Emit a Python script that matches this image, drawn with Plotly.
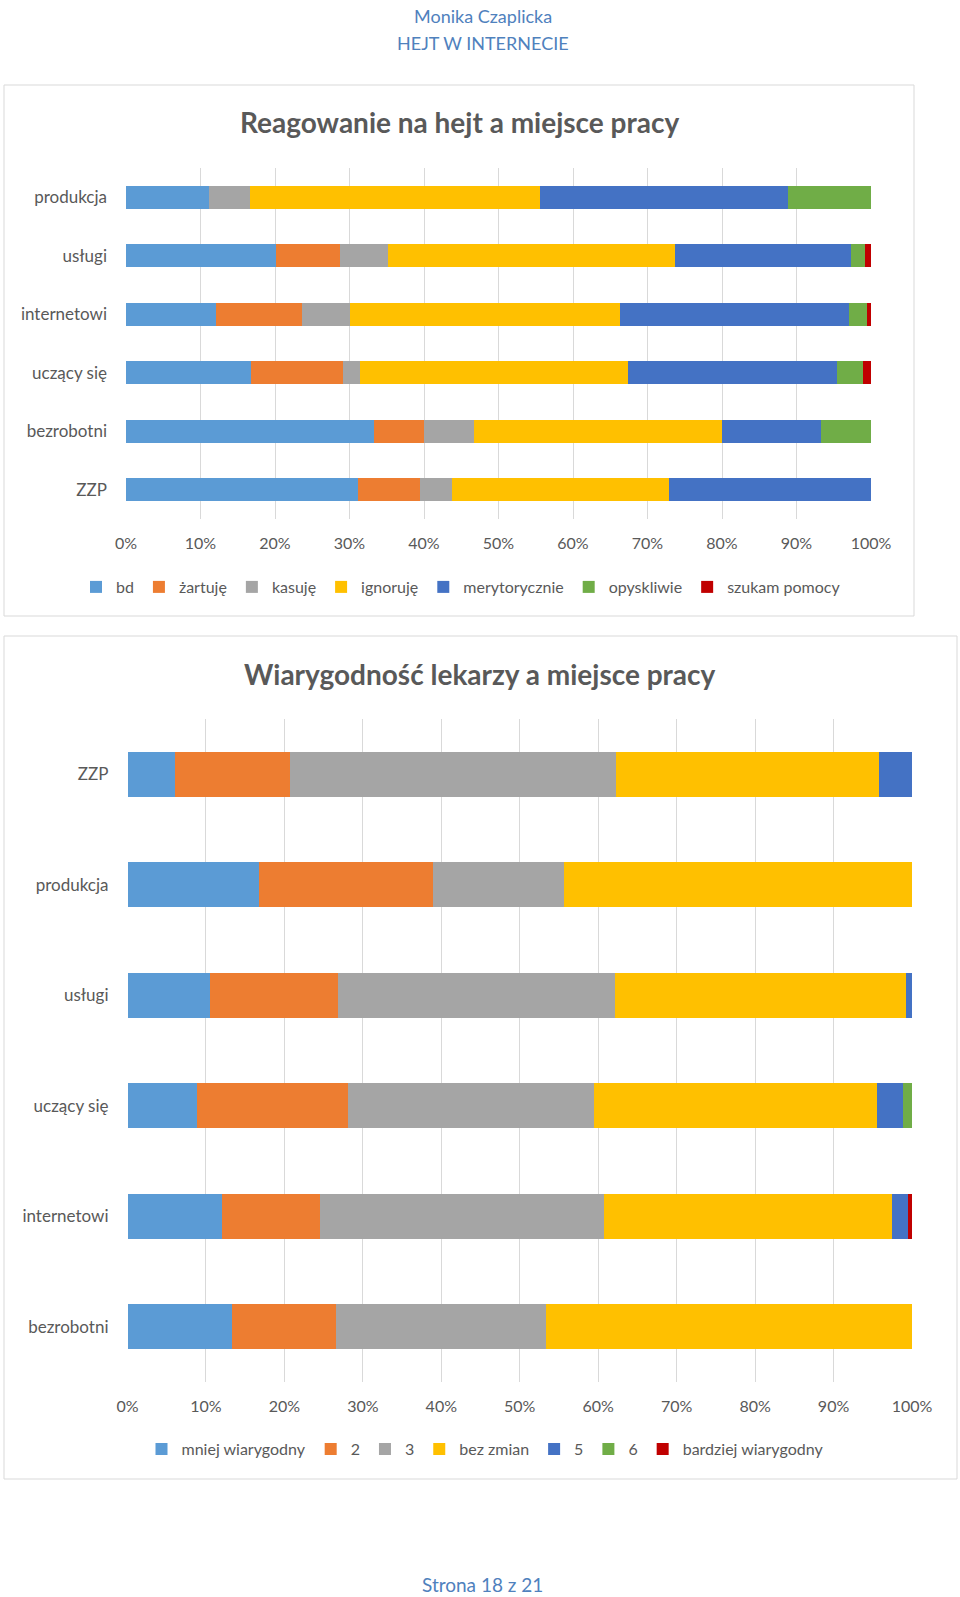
import plotly.graph_objects as go

# ---------------- data ----------------
cats1 = ["produkcja", "usługi", "internetowi", "uczący się", "bezrobotni", "ZZP"]
series1_names = ["bd", "żartuję", "kasuję", "ignoruję", "merytorycznie", "opyskliwie", "szukam pomocy"]
bd = [11.1, 20.2, 12.1, 16.8, 33.3, 31.1]
zartuje = [0, 8.5, 11.5, 12.3, 6.7, 8.4]
kasuje = [5.6, 6.5, 6.5, 2.3, 6.7, 4.2]
ignoruje = [38.9, 38.5, 36.2, 36.0, 33.3, 29.2]
merytorycznie = [33.3, 23.6, 30.7, 28.0, 13.3, 27.1]
opyskliwie = [11.1, 1.9, 2.4, 3.5, 6.7, 0]
szukam_pomocy = [0, 0.8, 0.6, 1.1, 0, 0]

cats2 = ["ZZP", "produkcja", "usługi", "uczący się", "internetowi", "bezrobotni"]
series2_names = ["mniej wiarygodny", "2", "3", "bez zmian", "5", "6", "bardziej wiarygodny"]
mniej_wiarygodny = [6.1, 16.7, 10.5, 8.9, 12.0, 13.3]
ocena_2 = [14.6, 22.2, 16.3, 19.2, 12.6, 13.3]
ocena_3 = [41.6, 16.7, 35.3, 31.4, 36.2, 26.7]
bez_zmian = [33.5, 44.4, 37.1, 36.0, 36.6, 46.7]
ocena_5 = [4.2, 0, 0.8, 3.4, 2.1, 0]
ocena_6 = [0, 0, 0, 1.1, 0, 0]
bardziej_wiarygodny = [0, 0, 0, 0, 0.5, 0]

tick_vals = [0, 10, 20, 30, 40, 50, 60, 70, 80, 90, 100]
tick_text = ["0%", "10%", "20%", "30%", "40%", "50%", "60%", "70%", "80%", "90%", "100%"]

colors = ["#5B9BD5", "#ED7D31", "#A5A5A5", "#FFC000", "#4472C4", "#70AD47", "#C00000"]

# ---------------- figure ----------------
W, H = 960, 1597
FONT = "Lato, 'Open Sans', sans-serif"
GRAY = "#595959"

def py(px):
    return 1 - px / H

fig = go.Figure()

vals1 = [bd, zartuje, kasuje, ignoruje, merytorycznie, opyskliwie, szukam_pomocy]
for name, v, c in zip(series1_names, vals1, colors):
    fig.add_trace(go.Bar(
        y=cats1, x=v, name=name, orientation="h", marker=dict(color=c, line=dict(width=0)),
        width=0.4, xaxis="x", yaxis="y", legend="legend", hoverinfo="name+x"))

vals2 = [mniej_wiarygodny, ocena_2, ocena_3, bez_zmian, ocena_5, ocena_6, bardziej_wiarygodny]
for name, v, c in zip(series2_names, vals2, colors):
    fig.add_trace(go.Bar(
        y=cats2, x=v, name=name, orientation="h", marker=dict(color=c, line=dict(width=0)),
        width=0.41, xaxis="x2", yaxis="y2", legend="legend2", hoverinfo="name+x"))

xaxis_common = dict(range=[0, 100], tickvals=tick_vals, ticktext=tick_text, automargin=False,
                    showgrid=True, gridcolor="#D9D9D9", gridwidth=1, zeroline=False,
                    showline=False, ticks="", tickfont=dict(family=FONT, size=16, color=GRAY),
                    ticklabelstandoff=13, fixedrange=True)
yaxis_common = dict(autorange="reversed", showgrid=False, zeroline=False, showline=False,
                    automargin=False, type="category",
                    ticks="", tickfont=dict(family=FONT, size=17, color=GRAY),
                    ticklabelstandoff=18, fixedrange=True)

fig.update_layout(
    template="none",
    width=W, height=H, autosize=False,
    margin=dict(l=0, r=0, t=0, b=0, pad=0, autoexpand=False),
    paper_bgcolor="white", plot_bgcolor="white",
    barmode="stack",
    showlegend=True,
    xaxis=dict(domain=[126 / W, 871 / W], anchor="y", **xaxis_common),
    yaxis=dict(domain=[py(519), py(168)], anchor="x", **yaxis_common),
    xaxis2=dict(domain=[127.5 / W, 912 / W], anchor="y2", **xaxis_common),
    yaxis2=dict(domain=[py(1382), py(719)], anchor="x2", **yaxis_common),
    legend=dict(orientation="h", x=461 / W, y=py(587), xanchor="center", yanchor="middle",
                traceorder="normal", font=dict(family=FONT, size=16, color=GRAY),
                itemwidth=30, bgcolor="rgba(0,0,0,0)", borderwidth=0),
    legend2=dict(orientation="h", x=485 / W, y=py(1449), xanchor="center", yanchor="middle",
                 traceorder="normal", font=dict(family=FONT, size=16, color=GRAY),
                 itemwidth=30, bgcolor="rgba(0,0,0,0)", borderwidth=0),
    shapes=[
        dict(type="rect", xref="paper", yref="paper", x0=4 / W, x1=914 / W, y0=py(616), y1=py(85),
             line=dict(color="#D9D9D9", width=1), fillcolor="rgba(0,0,0,0)", layer="below"),
        dict(type="rect", xref="paper", yref="paper", x0=4 / W, x1=957 / W, y0=py(1479), y1=py(636),
             line=dict(color="#D9D9D9", width=1), fillcolor="rgba(0,0,0,0)", layer="below"),
    ],
    annotations=[
        dict(text="Monika Czaplicka", x=483 / W, y=py(16), xref="paper", yref="paper",
             showarrow=False, xanchor="center", yanchor="middle",
             font=dict(family=FONT, size=18, color="#4F81BD")),
        dict(text="HEJT W INTERNECIE", x=483 / W, y=py(43), xref="paper", yref="paper",
             showarrow=False, xanchor="center", yanchor="middle",
             font=dict(family=FONT, size=18, color="#4F81BD")),
        dict(text="<b>Reagowanie na hejt a miejsce pracy</b>", x=459 / W, y=py(122), xref="paper", yref="paper",
             showarrow=False, xanchor="center", yanchor="middle",
             font=dict(family=FONT, size=28, color=GRAY)),
        dict(text="<b>Wiarygodność lekarzy a miejsce pracy</b>", x=480 / W, y=py(674), xref="paper", yref="paper",
             showarrow=False, xanchor="center", yanchor="middle",
             font=dict(family=FONT, size=28, color=GRAY)),
        dict(text="Strona 18 z 21", x=482 / W, y=py(1584), xref="paper", yref="paper",
             showarrow=False, xanchor="center", yanchor="middle",
             font=dict(family=FONT, size=19, color="#4F81BD")),
    ],
)

fig.write_html(
    "out.html",
    config={"responsive": False, "displayModeBar": False},
    post_script="document.body.style.margin='0';document.body.style.overflow='hidden';",
)
